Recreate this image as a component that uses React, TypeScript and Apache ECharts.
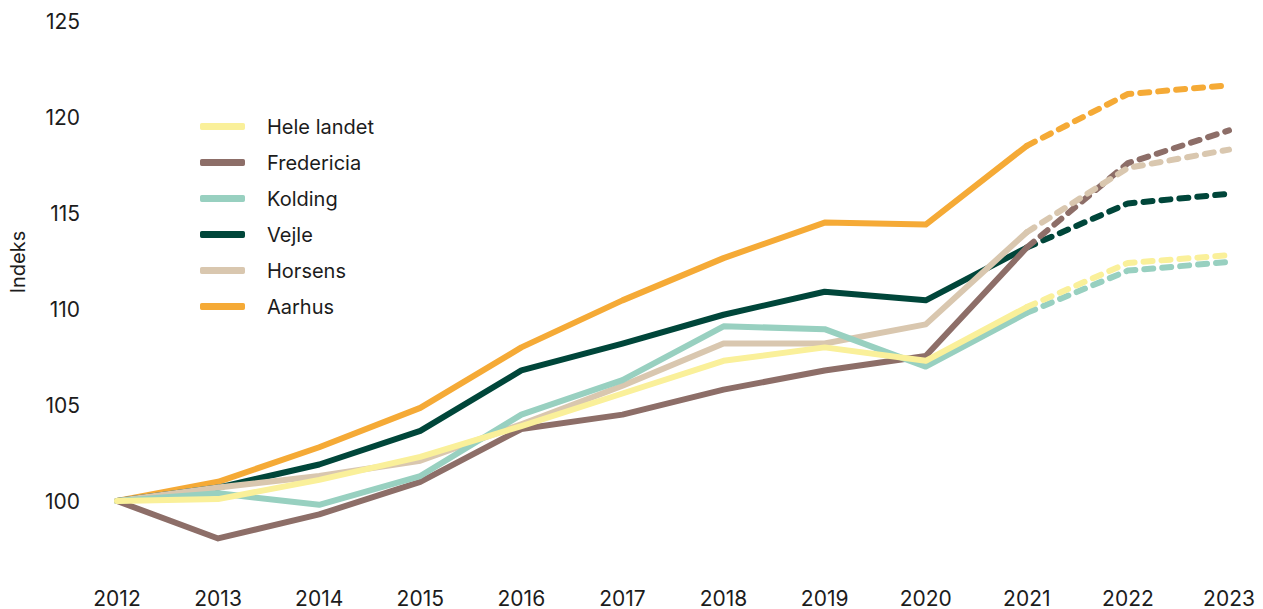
import React, { useEffect, useRef } from "react";
import * as echarts from "echarts";

const years = ["2012","2013","2014","2015","2016","2017","2018","2019","2020","2021","2022","2023"];
const heleLandet = [100, 100.1, 101.1, 102.3, 103.9, 105.6, 107.3, 108.0, 107.3, 110.1, 112.4, 112.8];
const fredericia = [100, 98.05, 99.3, 101.0, 103.75, 104.5, 105.8, 106.8, 107.55, 113.2, 117.6, 119.3];
const kolding = [100, 100.4, 99.8, 101.3, 104.5, 106.3, 109.1, 108.95, 107.0, 109.8, 112.0, 112.45];
const vejle = [100, 100.7, 101.9, 103.65, 106.8, 108.2, 109.7, 110.9, 110.45, 113.2, 115.5, 116.0];
const horsens = [100, 100.7, 101.3, 102.1, 104.0, 106.0, 108.2, 108.2, 109.2, 114.0, 117.35, 118.3];
const aarhus = [100, 101.0, 102.8, 104.85, 108.0, 110.45, 112.65, 114.5, 114.4, 118.5, 121.2, 121.65];

const names = ["Hele landet", "Fredericia", "Kolding", "Vejle", "Horsens", "Aarhus"];
const values = [heleLandet, fredericia, kolding, vejle, horsens, aarhus];
const colors = ["#FAF09A", "#8D6E68", "#98D0C0", "#00463A", "#D9C7AF", "#F5AA36"];
const drawOrder = [5, 3, 1, 4, 2, 0];
const forecastStart = 9;

const FONT = "Inter, 'DejaVu Sans', sans-serif";
const TXT = "#1c1c1c";

export default function App() {
  const ref = useRef<HTMLDivElement>(null);
  useEffect(() => {
    if (!ref.current) return;
    const chart = echarts.init(ref.current, undefined, { renderer: "svg" });
    const series: any[] = [];
    drawOrder.forEach((i) => {
      const v = values[i];
      series.push({
        name: names[i],
        type: "line",
        data: v.map((d, k) => (k <= forecastStart ? d : null)),
        showSymbol: false,
        symbol: "none",
        color: colors[i],
        lineStyle: { width: 6, color: colors[i], cap: "round", join: "round" },
        z: 2,
      });
      series.push({
        name: names[i] + " prognose",
        type: "line",
        data: v.map((d, k) => (k >= forecastStart ? d : null)),
        showSymbol: false,
        symbol: "none",
        color: colors[i],
        lineStyle: { width: 6, color: colors[i], type: [9, 9], cap: "round", join: "round" },
        z: 2,
      });
    });
    chart.setOption({
      animation: false,
      backgroundColor: "#ffffff",
      grid: { left: 117, right: 34, top: 21, bottom: 12, containLabel: false },
      legend: {
        data: names.map((n, i) => ({ name: n, itemStyle: { color: colors[i] } })),
        orient: "vertical",
        left: 200,
        top: 116,
        padding: 0,
        icon: "roundRect",
        itemWidth: 45,
        itemHeight: 7,
        itemGap: 15,
        selectedMode: false,
        textStyle: { fontFamily: FONT, fontSize: 20, lineHeight: 21, color: TXT, padding: [0, 0, 0, 17] },
      },
      graphic: [
        {
          type: "text",
          x: 18,
          y: 262,
          rotation: Math.PI / 2,
          style: {
            text: "Indeks",
            fontFamily: FONT,
            fontSize: 20,
            fill: TXT,
            align: "center",
            verticalAlign: "middle",
          },
        },
      ],
      xAxis: {
        type: "category",
        data: years,
        boundaryGap: false,
        axisLine: { show: false },
        axisTick: { show: false },
        splitLine: { show: false },
        axisLabel: { fontFamily: FONT, fontSize: 21, lineHeight: 18, color: TXT, margin: -8 },
      },
      yAxis: {
        type: "value",
        min: 95,
        max: 125,
        interval: 5,
        axisLine: { show: false },
        axisTick: { show: false },
        splitLine: { show: false },
        axisLabel: {
          fontFamily: FONT,
          fontSize: 21,
          color: TXT,
          margin: 37,
          formatter: (v: number) => (v === 95 ? "" : String(v)),
        },
      },
      series,
    });
    return () => chart.dispose();
  }, []);
  return <div ref={ref} style={{ width: 1263, height: 609, position: "absolute", left: 0, top: 0 }} />;
}
